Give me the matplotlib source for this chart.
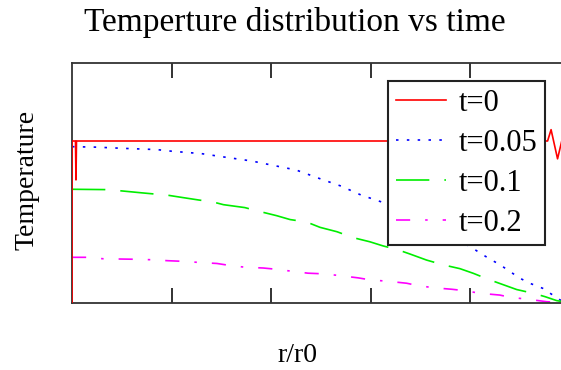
import matplotlib.pyplot as plt

# r/r0 positions and temperatures
r_t0 = [0.0, 0.0, 0.007, 0.008, 0.009, 0.5, 0.955, 0.962, 0.975, 0.985, 1.0]
T_t0 = [0.0, 1.0, 1.0, 0.76, 1.0, 1.0, 1.0, 1.07, 0.89, 1.02, 0.0]

r_t005 = [0.0, 0.05, 0.10, 0.17, 0.20, 0.26, 0.31, 0.36, 0.40, 0.45, 0.50, 0.54,
          0.58, 0.63, 0.80, 0.82, 0.84, 0.86, 0.88, 0.90, 0.92, 0.945, 0.965, 0.98, 1.0]
T_t005 = [0.965, 0.962, 0.955, 0.947, 0.937, 0.922, 0.899, 0.877, 0.852, 0.821, 0.765,
          0.722, 0.667, 0.615, 0.348, 0.307, 0.270, 0.235, 0.193, 0.152, 0.121, 0.091,
          0.050, 0.019, 0.0]

r_t01 = [0.0, 0.066, 0.096, 0.14, 0.193, 0.22, 0.254, 0.284, 0.304, 0.347, 0.378,
         0.411, 0.438, 0.471, 0.498, 0.532, 0.565, 0.598, 0.625, 0.652, 0.679, 0.712,
         0.746, 0.779, 0.806, 0.836, 0.893, 0.926, 0.95, 0.973, 1.0]
T_t01 = [0.702, 0.700, 0.693, 0.680, 0.665, 0.652, 0.636, 0.623, 0.607, 0.589, 0.564,
         0.539, 0.515, 0.500, 0.467, 0.440, 0.403, 0.378, 0.352, 0.331, 0.302, 0.265,
         0.235, 0.212, 0.183, 0.146, 0.083, 0.060, 0.039, 0.015, 0.0]

r_t02 = [0.0, 0.029, 0.063, 0.127, 0.16, 0.193, 0.224, 0.257, 0.291, 0.314, 0.347,
         0.384, 0.411, 0.444, 0.474, 0.505, 0.538, 0.575, 0.598, 0.635, 0.672, 0.692,
         0.726, 0.762, 0.789, 0.819, 0.859, 0.88, 0.916, 0.953, 0.98, 1.0]
T_t02 = [0.282, 0.282, 0.273, 0.270, 0.267, 0.261, 0.257, 0.250, 0.244, 0.233, 0.221,
         0.216, 0.208, 0.195, 0.184, 0.180, 0.169, 0.155, 0.143, 0.134, 0.122, 0.109,
         0.094, 0.085, 0.076, 0.060, 0.049, 0.035, 0.023, 0.008, 0.003, 0.0]

x_ticks = [0.2, 0.4, 0.6, 0.8]

plt.rcParams['font.family'] = ['Liberation Serif', 'DejaVu Serif']

fig = plt.figure(figsize=(5.61, 3.70), dpi=100)
ax = fig.add_axes([72 / 561, 67 / 370, 498 / 561, 240 / 370])

lw = 1.2
ax.plot(r_t0, T_t0, color='#ff0000', linewidth=lw, label='t=0', zorder=3)
ax.plot(r_t005, T_t005, color='#0000ff', linewidth=lw, dashes=(1.5, 5), label='t=0.05')
ax.plot(r_t01, T_t01, color='#00ee00', linewidth=lw, dashes=(20, 9), label='t=0.1')
ax.plot(r_t02, T_t02, color='#ff00ff', linewidth=lw, dashes=(8.5, 9, 1.5, 9), label='t=0.2')

ax.set_xlim(0, 1)
ax.set_ylim(0, 240 / 162)
ax.set_xticks(x_ticks)
ax.set_yticks([])
ax.tick_params(axis='x', direction='in', top=True, bottom=True, length=11, width=1.3,
               labelbottom=False, color='#222222')
for s in ax.spines.values():
    s.set_linewidth(1.3)
    s.set_color('#333333')

fig.text(295 / 561, 1 - 22 / 370, 'Temperture distribution vs time', fontsize=24,
         ha='center', va='center')
fig.text(27 / 561, 1 - 180 / 370, 'Temperature', fontsize=20, rotation=90,
         ha='center', va='center')
fig.text(297 / 561, 1 - 355 / 370, 'r/r0', fontsize=20, ha='center', va='center')

leg = ax.legend(loc='upper left', bbox_to_anchor=(388 / 561, 1 - 81 / 370),
                bbox_transform=fig.transFigure, fontsize=22, frameon=True,
                fancybox=False, framealpha=1, edgecolor='#222222',
                handlelength=1.65, handletextpad=0.4, labelspacing=0.36,
                borderpad=0.25, borderaxespad=0)
leg.get_frame().set_linewidth(1.5)
leg.set_zorder(5)

plt.savefig('out.png', dpi=100)
